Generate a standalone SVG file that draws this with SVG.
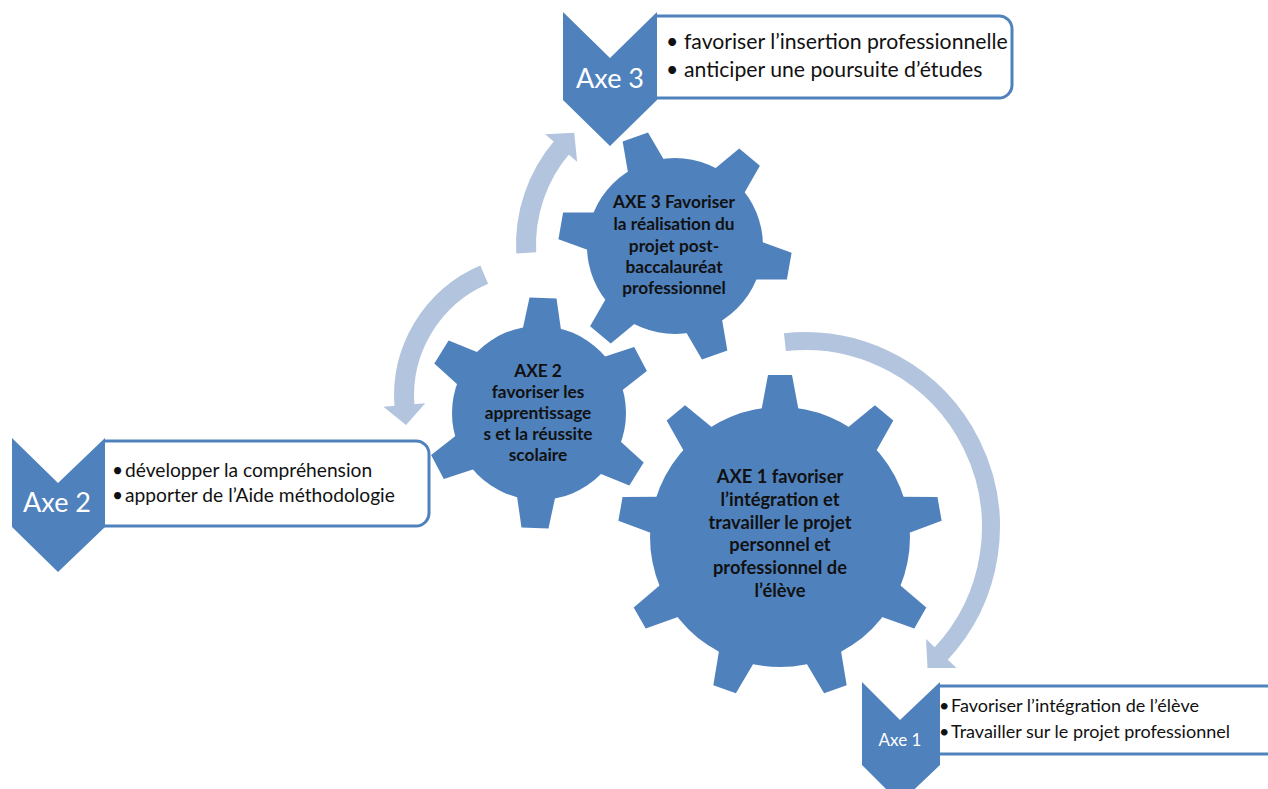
<svg xmlns="http://www.w3.org/2000/svg" width="1268" height="789" viewBox="0 0 1268 789">
<defs>
<style>
.gear{fill:#4F81BD}
.gt{font-family:Lato,"Liberation Sans",sans-serif;font-weight:bold;font-size:17.3px;fill:#111;text-anchor:middle}
.boxf{fill:#fff}
.boxs{fill:none;stroke:#4F81BD;stroke-width:3}
.chev{fill:#4F81BD}
.lab{font-family:Lato,"Liberation Sans",sans-serif;fill:#fff}
.bt{font-family:Lato,"Liberation Sans",sans-serif;fill:#111}
.arr{fill:none;stroke:#B3C4DE;stroke-width:20;marker-end:url(#ah)}
</style>
<marker id="ah" markerUnits="userSpaceOnUse" markerWidth="30" markerHeight="50" viewBox="-3 -25 30 50" refX="0" refY="0" orient="auto" overflow="visible">
<path d="M-2,-21 L18,0 L-2,21 Z" fill="#B3C4DE"/>
</marker>
<polygon id="t1" points="-19.1,-124 -12,-162 12,-162 19.1,-124"/>
<polygon id="t2" points="-19.6,-81 -13.5,-115 13.5,-115 19.6,-81"/>
<polygon id="t3" points="-19.6,-82 -13.5,-116 13.5,-116 19.6,-82"/>
</defs>
<rect width="1268" height="789" fill="#fff"/>

<g id="connectors">
<path class="arr" d="M526.2,252.9 A151,151 0 0 1 562.5,146.5"/>
<path class="arr" d="M484.2,274.6 A132,132 0 0 0 404.5,407"/>
<path class="arr" style="stroke-width:18" d="M784.9,342.1 A186,186 0 0 1 939.9,655"/>
</g>

<g id="gear3" class="gear" transform="translate(675,246)">
<circle r="88"/>
<use href="#t3" transform="rotate(40)"/>
<use href="#t3" transform="rotate(100)"/>
<use href="#t3" transform="rotate(160)"/>
<use href="#t3" transform="rotate(220)"/>
<use href="#t3" transform="rotate(280)"/>
<use href="#t3" transform="rotate(340)"/>
</g>
<text class="gt"><tspan x="674" y="208">AXE 3 Favoriser</tspan><tspan x="674" y="230">la réalisation du</tspan><tspan x="674" y="252">projet post-</tspan><tspan x="674" y="273">baccalauréat</tspan><tspan x="674" y="294">professionnel</tspan></text>

<g id="gear2" class="gear" transform="translate(539,413)">
<circle r="87"/>
<use href="#t2" transform="rotate(2)"/>
<use href="#t2" transform="rotate(62)"/>
<use href="#t2" transform="rotate(122)"/>
<use href="#t2" transform="rotate(182)"/>
<use href="#t2" transform="rotate(242)"/>
<use href="#t2" transform="rotate(302)"/>
</g>
<text class="gt"><tspan x="538" y="377">AXE 2</tspan><tspan x="538" y="398">favoriser les</tspan><tspan x="538" y="419">apprentissage</tspan><tspan x="538" y="440">s et la réussite</tspan><tspan x="538" y="461">scolaire</tspan></text>

<g id="gear1" class="gear" transform="translate(780,537)">
<circle r="130"/>
<use href="#t1"/>
<use href="#t1" transform="rotate(40)"/>
<use href="#t1" transform="rotate(80)"/>
<use href="#t1" transform="rotate(120)"/>
<use href="#t1" transform="rotate(160)"/>
<use href="#t1" transform="rotate(200)"/>
<use href="#t1" transform="rotate(240)"/>
<use href="#t1" transform="rotate(280)"/>
<use href="#t1" transform="rotate(320)"/>
</g>
<text class="gt" style="font-size:18.3px"><tspan x="780" y="483">AXE 1 favoriser</tspan><tspan x="780" y="506">l’intégration et</tspan><tspan x="780" y="529">travailler le projet</tspan><tspan x="780" y="551">personnel et</tspan><tspan x="780" y="574">professionnel de</tspan><tspan x="780" y="597">l’élève</tspan></text>

<g id="axe3">
<rect class="boxf" x="640" y="16" width="372" height="82" rx="13"/>
<path class="boxs" d="M656,16 H999 A13,13 0 0 1 1012,29 V85 A13,13 0 0 1 999,98 H656"/>
<polygon class="chev" points="563,12 610,58 657,12 657,100 610,146 563,100"/>
<text class="lab" x="610" y="88" font-size="27" text-anchor="middle">Axe 3</text>
<text class="bt" font-size="21.2"><tspan x="666" y="49">•</tspan><tspan x="684" y="49">favoriser l’insertion professionnelle</tspan><tspan x="666" y="77">•</tspan><tspan x="684" y="77">anticiper une poursuite d’études</tspan></text>
</g>

<g id="axe2">
<rect class="boxf" x="95" y="441" width="334" height="85" rx="13"/>
<path class="boxs" d="M104,441 H416 A13,13 0 0 1 429,454 V513 A13,13 0 0 1 416,526 H104"/>
<polygon class="chev" points="12,438 58,483 105,438 105,527 58,572 12,527"/>
<text class="lab" x="57" y="512" font-size="27" text-anchor="middle">Axe 2</text>
<text class="bt" font-size="19.2"><tspan x="112" y="477">•</tspan><tspan x="125" y="477">développer la compréhension</tspan><tspan x="112" y="502">•</tspan><tspan x="125" y="502">apporter de l’Aide méthodologie</tspan></text>
</g>

<g id="axe1">
<rect class="boxf" x="930" y="686" width="345" height="68"/>
<path class="boxs" d="M939,686 H1275 M1275,754 H939"/>
<polygon class="chev" points="862,682 900,720 940,682 940,765 900,803 862,765"/>
<text class="lab" x="900" y="746" font-size="17" text-anchor="middle">Axe 1</text>
<text class="bt" font-size="18"><tspan x="939" y="712">•</tspan><tspan x="951" y="712">Favoriser l’intégration de l’élève</tspan><tspan x="939" y="738">•</tspan><tspan x="951" y="738">Travailler sur le projet professionnel</tspan></text>
</g>
</svg>
